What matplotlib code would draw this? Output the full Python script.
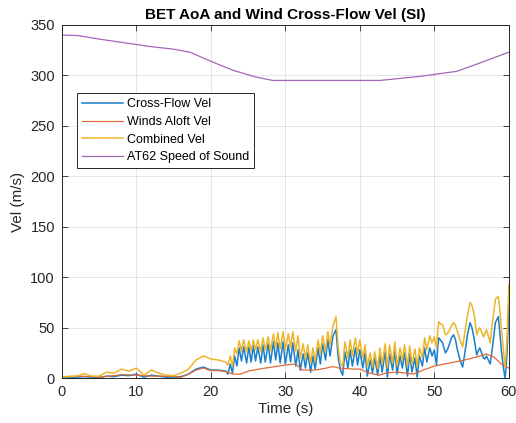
import matplotlib
matplotlib.use('Agg')
import matplotlib.pyplot as plt
import numpy as np

plt.rcParams['font.family'] = ['Liberation Sans', 'DejaVu Sans']

# cross-flow and combined velocity share one time base
t_vel = [0, 1, 2, 3, 4, 5, 6, 7, 8, 9, 10, 11, 12, 13, 14, 15, 16, 17, 18, 19, 20, 21, 22.0,
         22.3, 22.6, 22.9, 23.2, 23.5, 23.8, 24.1, 24.4, 24.8, 25.1, 25.4, 25.7, 26.0, 26.3,
         26.7, 27.0, 27.3, 27.7, 28.0, 28.4, 28.7, 29.0, 29.3, 29.7, 30.0, 30.4, 30.7, 31.0,
         31.4, 31.7, 32.0, 32.4, 32.7, 33.0, 33.4, 33.7, 34.0, 34.4, 34.7, 35.0, 35.4, 35.7,
         36.0, 36.4, 36.8, 37.1, 37.4, 37.7, 38.0, 38.4, 38.7, 39.0, 39.4, 39.7, 40.0, 40.4,
         40.7, 41.0, 41.4, 41.7, 42.0, 42.4, 42.7, 43.0, 43.4, 43.7, 44.0, 44.4, 44.7, 45.0,
         45.4, 45.7, 46.0, 46.4, 46.7, 47.0, 47.4, 47.7, 48.0, 48.4, 48.7, 49.0, 49.4, 49.7,
         50.0, 50.3, 50.45, 50.6, 50.8, 51.1, 51.3, 51.5, 51.75, 52.0, 52.3, 52.6, 52.85, 53.1,
         53.45, 53.8, 54.0, 54.2, 54.5, 54.8, 55.05, 55.3, 55.5, 55.7, 55.9, 56.1, 56.35, 56.6,
         56.8, 57.0, 57.25, 57.5, 57.8, 58.2, 58.4, 58.6, 58.8, 59.0, 59.25, 59.5, 59.65, 59.8,
         60.0]

cross_flow = [0.5, 0.5, 1, 1.5, 1, 0.5, 2, 1.5, 3, 2.5, 4, 1, 3, 2, 1, 1, 1.5, 4, 9, 11, 8, 8, 7,
              4, 14, 5, 22, 12, 30, 17, 31, 15, 31, 16, 32, 17, 31,
              15, 33, 16, 34, 15, 36, 18, 35, 15, 36, 14, 33, 16, 35,
              12, 28, 8, 24, 10, 25, 6, 22, 9, 30, 14, 34, 18, 38,
              22, 42, 48, 20, 8, 3, 26, 10, 28, 12, 30, 13, 28, 10,
              25, 2, 18, 5, 20, 3, 22, 6, 26, 1, 24, 8, 27, 4,
              22, 10, 25, 2, 24, 6, 20, 1, 22, 12, 30, 16, 30, 22,
              28, 13, 30, 40, 38, 35, 30, 25, 28, 33, 40, 43, 38, 28,
              18, 11, 20, 30, 45, 55, 50, 41, 32, 23, 27, 30, 25, 20,
              19, 22, 18, 14, 30, 55, 58, 61, 45, 28, 12, 0, 12, 30,
              72]

combined = [1, 1.5, 2, 4.5, 2, 2, 6, 5, 9, 7, 10, 3, 8, 5, 3, 2.5, 5, 9, 18, 22, 19, 18, 16,
            13, 22, 12, 30, 24, 37, 27, 38, 26, 37, 27, 38, 28, 38,
            26, 40, 28, 41, 27, 44, 30, 45, 29, 46, 28, 44, 30, 46,
            27, 42, 20, 34, 19, 33, 15, 30, 17, 38, 24, 42, 27, 46,
            33, 52, 61, 30, 14, 12, 36, 20, 38, 22, 40, 24, 38, 20,
            33, 12, 25, 11, 26, 9, 30, 14, 34, 10, 33, 15, 36, 12,
            30, 17, 33, 12, 32, 14, 29, 12, 30, 20, 40, 28, 42, 35,
            41, 30, 46, 56, 54, 53, 48, 43, 44, 47, 52, 55, 52, 46,
            38, 31, 40, 51, 64, 75, 72, 65, 55, 43, 47, 50, 46, 41,
            44, 48, 42, 35, 55, 78, 80, 81, 68, 51, 30, 11, 25, 45,
            93]

# winds aloft
t_wind = [0, 2, 4, 5, 7, 8, 10, 12, 14, 16,
          17, 18, 19, 20, 21, 22, 22.6, 23.0, 24, 25,
          27.3, 30, 31.4, 32.3, 34, 35.5, 36.4, 37.2, 39, 40,
          41.3, 42.6, 43.5, 45, 47.2, 48.5, 50, 52, 53.5, 55.7,
          57, 58, 59, 60]
winds_aloft = [1.5, 2, 1.5, 1, 2.5, 3.5, 3, 2, 2, 1,
               4, 8, 10, 7.5, 7.5, 6.5, 5, 4, 4, 7,
               10, 13, 14, 8, 8, 10, 11.5, 10, 9, 9,
               5, 3, 5, 6, 4, 8, 12, 15, 17, 21,
               24, 21, 14, 10]

# AT62 speed of sound
t_sound = [0, 2.2, 5, 8.7, 12, 15, 17.2, 20, 23, 26, 28.3, 35, 42.7, 48, 53, 56, 60]
speed_of_sound = [340, 339.5, 336, 332, 328.5, 326, 323, 314, 305, 298.5, 295, 295, 295,
                  299, 304, 312, 323]

fig = plt.figure(figsize=(5.16, 4.23), dpi=100)
ax = fig.add_axes([0.120, 0.106, 0.866, 0.835])

ax.plot(t_vel, cross_flow, color='#1A7FC9', lw=1.1, solid_joinstyle='round',
        label='Cross-Flow Vel')
ax.plot(t_wind, winds_aloft, color='#DD6A38', lw=0.9, label='Winds Aloft Vel')
ax.plot(t_vel, combined, color='#EDB52A', lw=1.1, solid_joinstyle='round',
        label='Combined Vel')
ax.plot(t_sound, speed_of_sound, color='#A466B8', lw=0.9, label='AT62 Speed of Sound')

ax.set_xlim(0, 60)
ax.set_ylim(0, 350)
ax.set_xticks(np.arange(0, 61, 10))
ax.set_yticks(np.arange(0, 351, 50))
ax.grid(True, color='#262626', alpha=0.13, lw=0.6)
ax.set_axisbelow(True)

# matlab-ish box with inward ticks on all sides
for s in ax.spines.values():
    s.set_color('#262626')
    s.set_linewidth(0.7)
ax.tick_params(direction='in', top=True, right=True, length=4, width=0.6,
               colors='#262626', labelsize=10.5, pad=5)

ax.set_xlabel('Time (s)', fontsize=11, color='#262626', labelpad=2)
ax.set_ylabel('Vel (m/s)', fontsize=11, color='#262626', labelpad=4)
ax.set_title('BET AoA and Wind Cross-Flow Vel (SI)', fontsize=11, fontweight='bold', pad=4)

leg = ax.legend(loc='upper left', bbox_to_anchor=(0.033, 0.806), fontsize=9,
                handlelength=3.3, fancybox=False, framealpha=1, edgecolor='#262626',
                borderpad=0.4, labelspacing=0.45, handletextpad=0.3, borderaxespad=0)
leg.get_frame().set_linewidth(0.7)

plt.savefig('out.png', dpi=100)
